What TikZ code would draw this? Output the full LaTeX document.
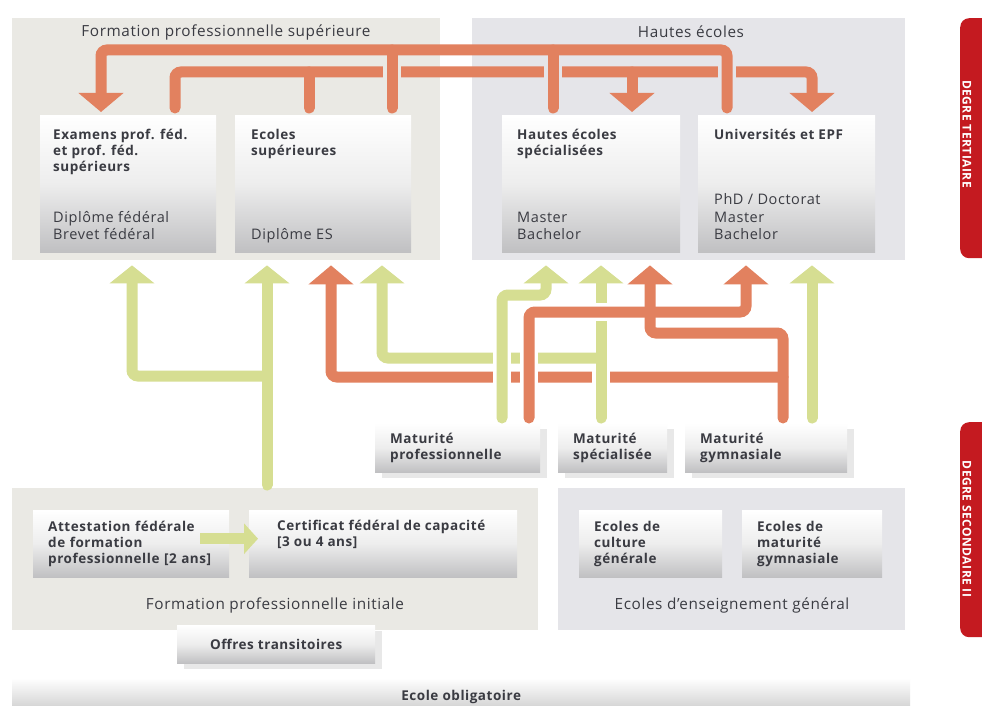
\documentclass[tikz,border=0pt]{standalone}
\usepackage{fontspec}
\setmainfont{Open Sans}[LetterSpace=4]
\usetikzlibrary{arrows.meta,shadows}
\definecolor{orcol}{RGB}{226,129,95}
\definecolor{grcol}{RGB}{214,222,146}
\definecolor{tabred}{RGB}{196,26,32}
\definecolor{fpsbg}{RGB}{234,233,228}
\definecolor{hebg}{RGB}{229,229,233}
\definecolor{txt}{RGB}{58,59,66}
\definecolor{boxlo}{RGB}{192,192,194}
\begin{document}
\begin{tikzpicture}[x=1pt,y=-1pt,
		panel/.style={anchor=north west,inner sep=0pt},
		ptitle/.style={inner sep=0pt,text=txt,font=\fontsize{15.3}{18}\selectfont},
		box/.style={anchor=north west,inner sep=0pt,top color=white,bottom color=boxlo,middle color=black!7},
		boxsh/.style={box,drop shadow={shadow xshift=7pt,shadow yshift=-6pt,fill=black!9,opacity=1}},
		txtbox/.style={align=left,text=txt,inner xsep=15pt,font=\bfseries\fontsize{13.5}{16}\selectfont},
		ttl/.style={anchor=north west,inner sep=0pt,align=left,text=txt,font=\bfseries\fontsize{13.5}{16}\selectfont},
		sub/.style={anchor=south west,inner sep=0pt,align=left,text=txt,font=\fontsize{14.5}{17.5}\selectfont},
		tabtxt/.style={rotate=-90,inner sep=0pt,text=white,font=\bfseries\fontsize{12}{14}\selectfont},
		orline/.style={draw=orcol,line width=11pt,line cap=round,rounded corners=6pt},
		grline/.style={draw=grcol,line width=11pt,line cap=round,rounded corners=6pt},
		orarrow/.style={orline,-{Triangle[width=44pt,length=19pt]}},
		grarrow/.style={grline,-{Triangle[width=44pt,length=18pt]}},
		gapcut/.style={draw=#1,line width=18pt},
	]
	\useasboundingbox[fill=white] (0,0) rectangle (982,706);
	%panels
	\node[panel,fill=fpsbg,minimum width=428pt,minimum height=242pt] (fps) at (12,18) {};
	\node[panel,fill=hebg,minimum width=433pt,minimum height=242pt] (he) at (472,18) {};
	\node[panel,fill=fpsbg,minimum width=526pt,minimum height=142pt] (fpi) at (12,488) {};
	\node[panel,fill=hebg,minimum width=347pt,minimum height=142pt] (eeg) at (558,488) {};
	\node[ptitle] (fpst) at (226,32) {Formation professionnelle supérieure};
	\node[ptitle] (het) at (691,32) {Hautes écoles};
	\node[ptitle] (fpit) at (275,605) {Formation professionnelle initiale};
	\node[ptitle] (eegt) at (732,605) {Ecoles d’enseignement général};
	%degree tabs
	\node[panel,fill=tabred,rounded corners=9pt,minimum width=40pt,minimum height=240pt] (tert) at (960,18) {};
	\node[tabtxt] (tertt) at (967,134) {DEGRE TERTIAIRE};
	\node[panel,fill=tabred,rounded corners=9pt,minimum width=40pt,minimum height=215pt] (sec) at (960,422) {};
	\node[tabtxt] (sect) at (967,529) {DEGRE SECONDAIRE II};
	%tertiary
		% boxes
		\node[box,minimum width=176pt,minimum height=137pt] (exa) at (40,115) {};
		\node[box,minimum width=176pt,minimum height=137pt] (esup) at (235,115) {};
		\node[box,minimum width=178pt,minimum height=137pt] (hes) at (502,115) {};
		\node[box,minimum width=177pt,minimum height=137pt] (uni) at (698,115) {};
		% texts
		\node[ttl] (exat) at ([xshift=13pt,yshift=-13pt]exa.north west) {\strut Examens prof. féd.\\et prof. féd.\\supérieurs};
		\node[sub] (exas) at ([xshift=13pt,yshift=7pt]exa.south west) {Diplôme fédéral\\Brevet fédéral\strut};
		\node[ttl] (esupt) at ([xshift=16pt,yshift=-13pt]esup.north west) {\strut Ecoles\\supérieures};
		\node[sub] (esups) at ([xshift=16pt,yshift=7pt]esup.south west) {Diplôme ES\strut};
		\node[ttl] (hest) at ([xshift=15pt,yshift=-13pt]hes.north west) {\strut Hautes écoles\\spécialisées};
		\node[sub] (hess) at ([xshift=15pt,yshift=7pt]hes.south west) {Master\\Bachelor\strut};
		\node[ttl] (unit) at ([xshift=16pt,yshift=-13pt]uni.north west) {\strut Universités et EPF};
		\node[sub] (unis) at ([xshift=16pt,yshift=7pt]uni.south west) {PhD / Doctorat\\Master\\Bachelor\strut};
	%secondary II
		\node[boxsh,txtbox,text width=135pt,minimum height=49pt] (mpro) at (375,423) {Maturité\\professionnelle};
		\node[boxsh,txtbox,text width=79pt,minimum height=49pt] (mspe) at (558,423) {Maturité\\spécialisée};
		\node[boxsh,txtbox,text width=132pt,minimum height=49pt] (mgym) at (685,423) {Maturité\\gymnasiale};
		\node[box,txtbox,text width=166pt,minimum height=67pt] (afp) at (33,510) {Attestation fédérale\\de formation\\professionnelle [2 ans]};
		\node[box,minimum width=268pt,minimum height=67pt] (cfc) at (249,510) {};
		\node[ttl] (cfct) at ([xshift=28pt,yshift=-9pt]cfc.north west) {\strut Certificat fédéral de capacité\\{}[3 ou 4 ans]};
		\node[box,txtbox,text width=113pt,minimum height=67pt] (ecg) at (579,510) {Ecoles de\\culture\\générale};
		\node[box,txtbox,text width=110pt,minimum height=67pt] (emg) at (742,510) {Ecoles de\\maturité\\gymnasiale};
		\node[boxsh,minimum width=198pt,minimum height=38pt,text=txt,font=\bfseries\fontsize{13.5}{16}\selectfont] (offr) at (177,625) {Offres transitoires};
	%compulsory school
		\node[box,minimum width=898pt,minimum height=38pt,top color=white,bottom color=black!22,text=txt,font=\bfseries\fontsize{13.5}{16}\selectfont] (oblig) at (12,678) {Ecole obligatoire};
	%flows within tertiary
		% lower level
		\draw[orarrow,shorten <=7pt,shorten >=3pt] (exa.north -| 175,0) |- (812,72) -- (uni.north -| 812,0);
		\draw[orline,shorten <=7pt] (esup.north -| 309,0) -- (309,72);
		\draw[orarrow,shorten >=3pt] (632,72) -- (hes.north -| 632,0);
		% gaps
		\draw[gapcut=fpsbg] (392,62) -- (392,82);
		\draw[gapcut=hebg] (553,62) -- (553,82);
		\draw[gapcut=hebg] (727,62) -- (727,82);
		% upper level
		\draw[orarrow,shorten <=7pt,shorten >=3pt] (uni.north -| 727,0) |- (101,50) -- (exa.north -| 101,0);
		\draw[orline,shorten <=7pt] (esup.north -| 392,0) -- (392,50);
		\draw[orline,shorten <=7pt] (hes.north -| 553,0) -- (553,50);
	%flows secondary to tertiary
		% maturite gymnasiale, orange
		\draw[orarrow,shorten <=5pt,shorten >=13pt] (mgym.north -| 783,0) |- (650,333) -- (hes.south -| 650,0);
		\draw[orarrow,shorten >=13pt] (783,377) -| (esup.south -| 331,0);
		% cfc
		\draw[grarrow,shorten <=25pt,shorten >=13pt] (cfc.north -| 267,0) -- (esup.south -| 267,0);
		\draw[grarrow,shorten >=13pt] (267,376) -| (exa.south -| 132,0);
		% maturite gymnasiale, green
		\draw[grarrow,shorten <=5pt,shorten >=13pt] (mgym.north -| 812,0) -- (uni.south -| 812,0);
		% maturite specialisee
		\draw[gapcut=white] (601,368) -- (601,386);
		\draw[grarrow,shorten <=5pt,shorten >=13pt] (mspe.north -| 601,0) -- (hes.south -| 601,0);
		\draw[grarrow,shorten >=13pt] (601,358) -| (esup.south -| 382,0);
		% maturite professionnelle
		\draw[gapcut=white] (502,347) -- (502,388);
		\draw[gapcut=white] (529,347) -- (529,388);
		\draw[grarrow,shorten <=5pt,shorten >=13pt] (mpro.north -| 502,0) |- (546,295) -- (hes.south -| 546,0);
		\draw[gapcut=white] (591,312) -- (611,312);
		\draw[orarrow,shorten <=5pt,shorten >=13pt] (mpro.north -| 529,0) |- (746,312) -- (uni.south -| 746,0);
	%afp to cfc
		\draw[grline,line cap=butt,-{Triangle[width=30pt,length=14pt]}] ([xshift=-29pt,yshift=5pt]afp.east) -- ([xshift=9pt,yshift=5pt]cfc.west);
\end{tikzpicture}
\end{document}
